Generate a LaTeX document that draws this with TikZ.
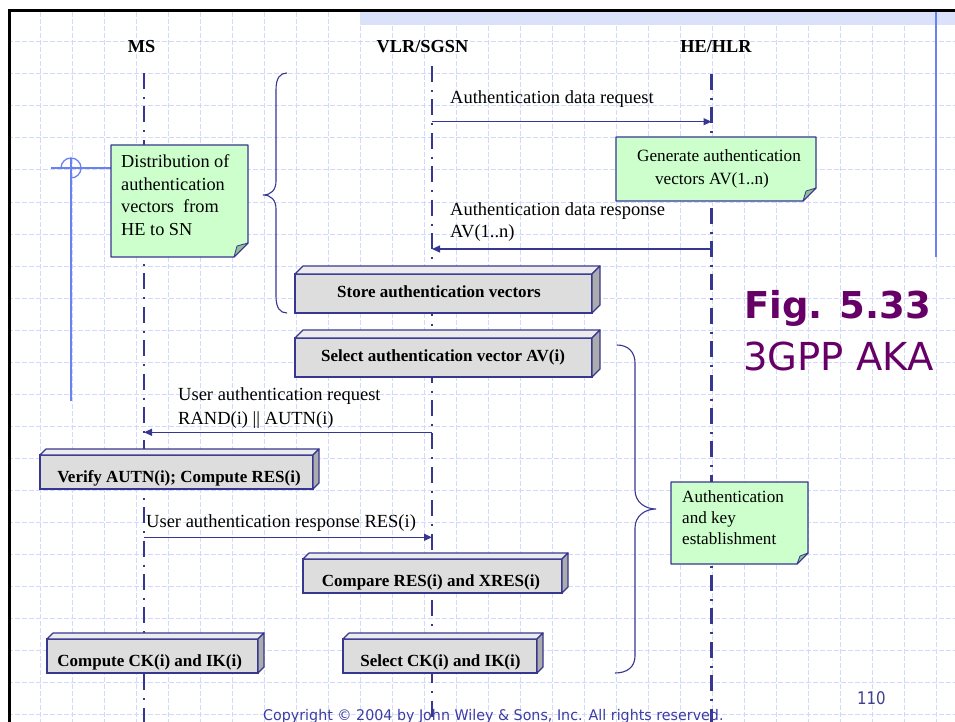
\documentclass[tikz,border=0pt]{standalone}
\usepackage{fontspec}
\setmainfont{Liberation Serif}
\newfontfamily\tahfont{DejaVu Sans}
\usetikzlibrary{arrows.meta,calc}

\definecolor{dkblue}{RGB}{55,55,145}
\definecolor{notegreen}{RGB}{204,255,204}
\definecolor{foldgreen}{RGB}{150,190,150}
\definecolor{gridblue}{RGB}{208,218,252}
\definecolor{lineblue}{RGB}{105,130,240}
\definecolor{bandblue}{RGB}{218,226,250}
\definecolor{boxfront}{RGB}{221,221,221}
\definecolor{boxtop}{RGB}{236,236,236}
\definecolor{boxside}{RGB}{172,172,172}
\definecolor{figpurple}{RGB}{102,0,102}
\definecolor{copyblue}{RGB}{60,60,165}
\definecolor{numblue}{RGB}{64,64,144}

\newcommand\fsz[1]{\fontsize{#1}{#1}\selectfont}

% 3D box: name, cx, cy, w, h, depth
\newcommand\cubebox[6]{%
  \node[cube, minimum width=#4pt, minimum height=#5pt] (#1) at (#2,#3) {};
  \filldraw[cubeface, fill=boxtop] (#1.north west) -- ([shift={(#6,-#6)}]#1.north west)
     -- ([shift={(#6,-#6)}]#1.north east) -- (#1.north east) -- cycle;
  \filldraw[cubeface, fill=boxside] (#1.north east) -- ([shift={(#6,-#6)}]#1.north east)
     -- ([shift={(#6,-#6)}]#1.south east) -- (#1.south east) -- cycle;
}
% note: x1 y1 x2 y2 fold
\newcommand\notebg[5]{%
  \filldraw[notestyle] (#1,#2) -- (#3,#2) -- (#3,#4-#5) -- (#3-#5,#4) -- (#1,#4) -- cycle;
  \filldraw[foldstyle] (#3,#4-#5) -- (#3-#5,#4) -- (#3-#5+3,#4-#5+3) -- cycle;
}

\begin{document}
\begin{tikzpicture}[x=1pt,y=-1pt,
  lifeline/.style={dkblue, line width=2.5pt, dash pattern=on 16pt off 8pt on 2pt off 7.4pt},
  msg/.style={dkblue, line width=1.2pt, -{Triangle[length=8pt,width=7pt]}},
  lbl/.style={anchor=base west, inner sep=0pt, font=\fsz{18.5}},
  hdr/.style={anchor=base, inner sep=0pt, font=\fsz{18.3}\bfseries},
  cube/.style={draw=dkblue, fill=boxfront, line width=1.2pt, inner sep=0pt, outer sep=0pt},
  cubeface/.style={draw=dkblue, line width=1.2pt, line join=round},
  cubetext/.style={anchor=base, inner sep=0pt, font=\fsz{17}\bfseries},
  notetext/.style={anchor=base west, inner sep=0pt, font=\fsz{18.3}},
  notestyle/.style={draw=dkblue, fill=notegreen, line width=1.2pt, line join=round},
  foldstyle/.style={draw=dkblue, fill=foldgreen, line width=0.8pt, line join=round},
  brace/.style={dkblue, line width=1.1pt},
  gridline/.style={gridblue, line width=1pt, dash pattern=on 5pt off 2pt},
  blueline/.style={lineblue, line width=2pt}
]
\useasboundingbox (0,0) rectangle (955,722);
\fill[white] (0,0) rectangle (955,722);

% grid
\foreach \i in {1,...,29} \draw[gridline] (8+32*\i,12) -- (8+32*\i,722);
\foreach \j in {1,...,22} \draw[gridline] (8,10+32*\j) -- (955,10+32*\j);

% top band and frame
\fill[bandblue] (360,12.5) rectangle (955,25);
\draw[black, line width=3pt] (9,722) -- (9,11) -- (955,11);
\draw[blueline] (935.5,12) -- (935.5,257);

% left marker
\draw[blueline] (71,158) -- (71,401);
\draw[lineblue, line width=1.3pt] (51,168) -- (111,168);
\draw[lineblue, line width=1.3pt] (61,168) arc[start angle=180, end angle=450, radius=10];

% headers
\node[hdr] (ms) at (141.5,52.3) {MS};
\node[hdr] (vlr) at (422.5,52.3) {VLR/SGSN};
\node[hdr] (hlr) at (716,52.3) {HE/HLR};

% lifelines
\coordinate (ms-top) at (144,73);
\coordinate (ms-bot) at (144,722);
\coordinate (vlr-top) at (432,66);
\coordinate (vlr-bot) at (432,722);
\coordinate (hlr-top) at (711.5,74);
\coordinate (hlr-bot) at (711.5,722);
\draw[lifeline] (ms-top) -- (ms-bot);
\draw[lifeline] (vlr-top) -- (vlr-bot);
\draw[lifeline] (hlr-top) -- (hlr-bot);

% messages
\coordinate (req-s) at (432,121.7);
\coordinate (req-e) at (711.5,121.7);
\draw[msg] (req-s) -- (req-e);
\node[lbl] (req) at (450,104) {Authentication data request};

\coordinate (resp-s) at (711.5,249);
\coordinate (resp-e) at (432,249);
\draw[msg] (resp-s) -- (resp-e);
\node[lbl] (resp1) at (450,215) {Authentication data response};
\node[lbl] (resp2) at (450,237.7) {AV(1..n)};

\coordinate (ureq-s) at (432,432.3);
\coordinate (ureq-e) at (144,432.3);
\draw[msg] (ureq-s) -- (ureq-e);
\node[lbl] (ureq1) at (178,400) {User authentication request};
\node[lbl] (ureq2) at (178,424.3) {RAND(i) || AUTN(i)};

\coordinate (uresp-s) at (144,537.3);
\coordinate (uresp-e) at (432,537.3);
\draw[msg] (uresp-s) -- (uresp-e);
\node[lbl] (uresp) at (146,527.5) {User authentication response RES(i)};

% braces
\draw[brace] (287,73) .. controls (280,73) and (276,78) .. (276,90) -- (276,181)
  .. controls (276,190) and (271,195) .. (263,195)
  .. controls (271,195) and (276,200) .. (276,209) -- (276,296)
  .. controls (276,308) and (280,313) .. (287,313);
\draw[brace] (617,345) .. controls (628,345) and (635,352) .. (635,363) -- (635,490)
  .. controls (635,502) and (645,509) .. (656,509)
  .. controls (645,509) and (635,516) .. (635,528) -- (635,656)
  .. controls (635,667) and (627,673) .. (615,673);

% notes
\notebg{111}{145}{248}{257}{14}
\node[notetext] (dist1) at (121,167.7) {Distribution of};
\node[notetext] (dist2) at (121,190) {authentication};
\node[notetext] (dist3) at (121,212.3) {vectors\ \ from};
\node[notetext] (dist4) at (121,235.3) {HE to SN};

\notebg{616}{137}{816}{201}{13}
\node[anchor=base, inner sep=0pt, font=\fsz{17.2}] (gen1) at (719,161.7) {Generate authentication};
\node[anchor=base, inner sep=0pt, font=\fsz{17.2}] (gen2) at (712,185) {vectors AV(1..n)};

\notebg{671}{482}{808}{564}{11}
\node[anchor=base west, inner sep=0pt, font=\fsz{17.1}] (ake1) at (682,502.7) {Authentication};
\node[anchor=base west, inner sep=0pt, font=\fsz{17.1}] (ake2) at (682,523.3) {and key};
\node[anchor=base west, inner sep=0pt, font=\fsz{17.1}] (ake3) at (682,544) {establishment};

% 3D boxes
\cubebox{store}{443.5}{293.5}{297}{39}{8}
\node[cubetext] (store-t) at (439,297.7) {Store authentication vectors};
\cubebox{selav}{443.5}{357.5}{297}{39}{8}
\node[cubetext] (selav-t) at (443,361) {Select authentication vector AV(i)};
\cubebox{verify}{176.5}{472}{273}{34}{6}
\node[cubetext] (verify-t) at (179,482.7) {Verify AUTN(i); Compute RES(i)};
\cubebox{compare}{432.5}{576}{259}{34}{6}
\node[cubetext] (compare-t) at (431,586) {Compare RES(i) and XRES(i)};
\cubebox{compck}{152.5}{656}{211}{34}{6}
\node[cubetext] (compck-t) at (149.7,666.7) {Compute CK(i) and IK(i)};
\cubebox{selck}{440}{656}{194}{34}{6}
\node[cubetext] (selck-t) at (440.5,666.7) {Select CK(i) and IK(i)};

% title
\node[anchor=base west, inner sep=0pt, font=\tahfont\fsz{37}\bfseries, text=figpurple] (fig) at (744,318) {Fig. 5.33};
\node[anchor=base west, inner sep=0pt, font=\tahfont\fsz{38.5}, text=figpurple] (aka) at (743,370) {3GPP AKA};

% footer
\node[anchor=base west, inner sep=0pt, font=\tahfont\fsz{17.4}, text=numblue] (pg) at (857,704) {\scalebox{0.86}[1]{110}};
\node[anchor=base west, inner sep=0pt, font=\tahfont\fsz{14.7}, text=copyblue] (copy) at (263,720) {\scalebox{0.97}[1]{Copyright © 2004 by John Wiley \& Sons, Inc. All rights reserved.}};
\end{tikzpicture}
\end{document}
